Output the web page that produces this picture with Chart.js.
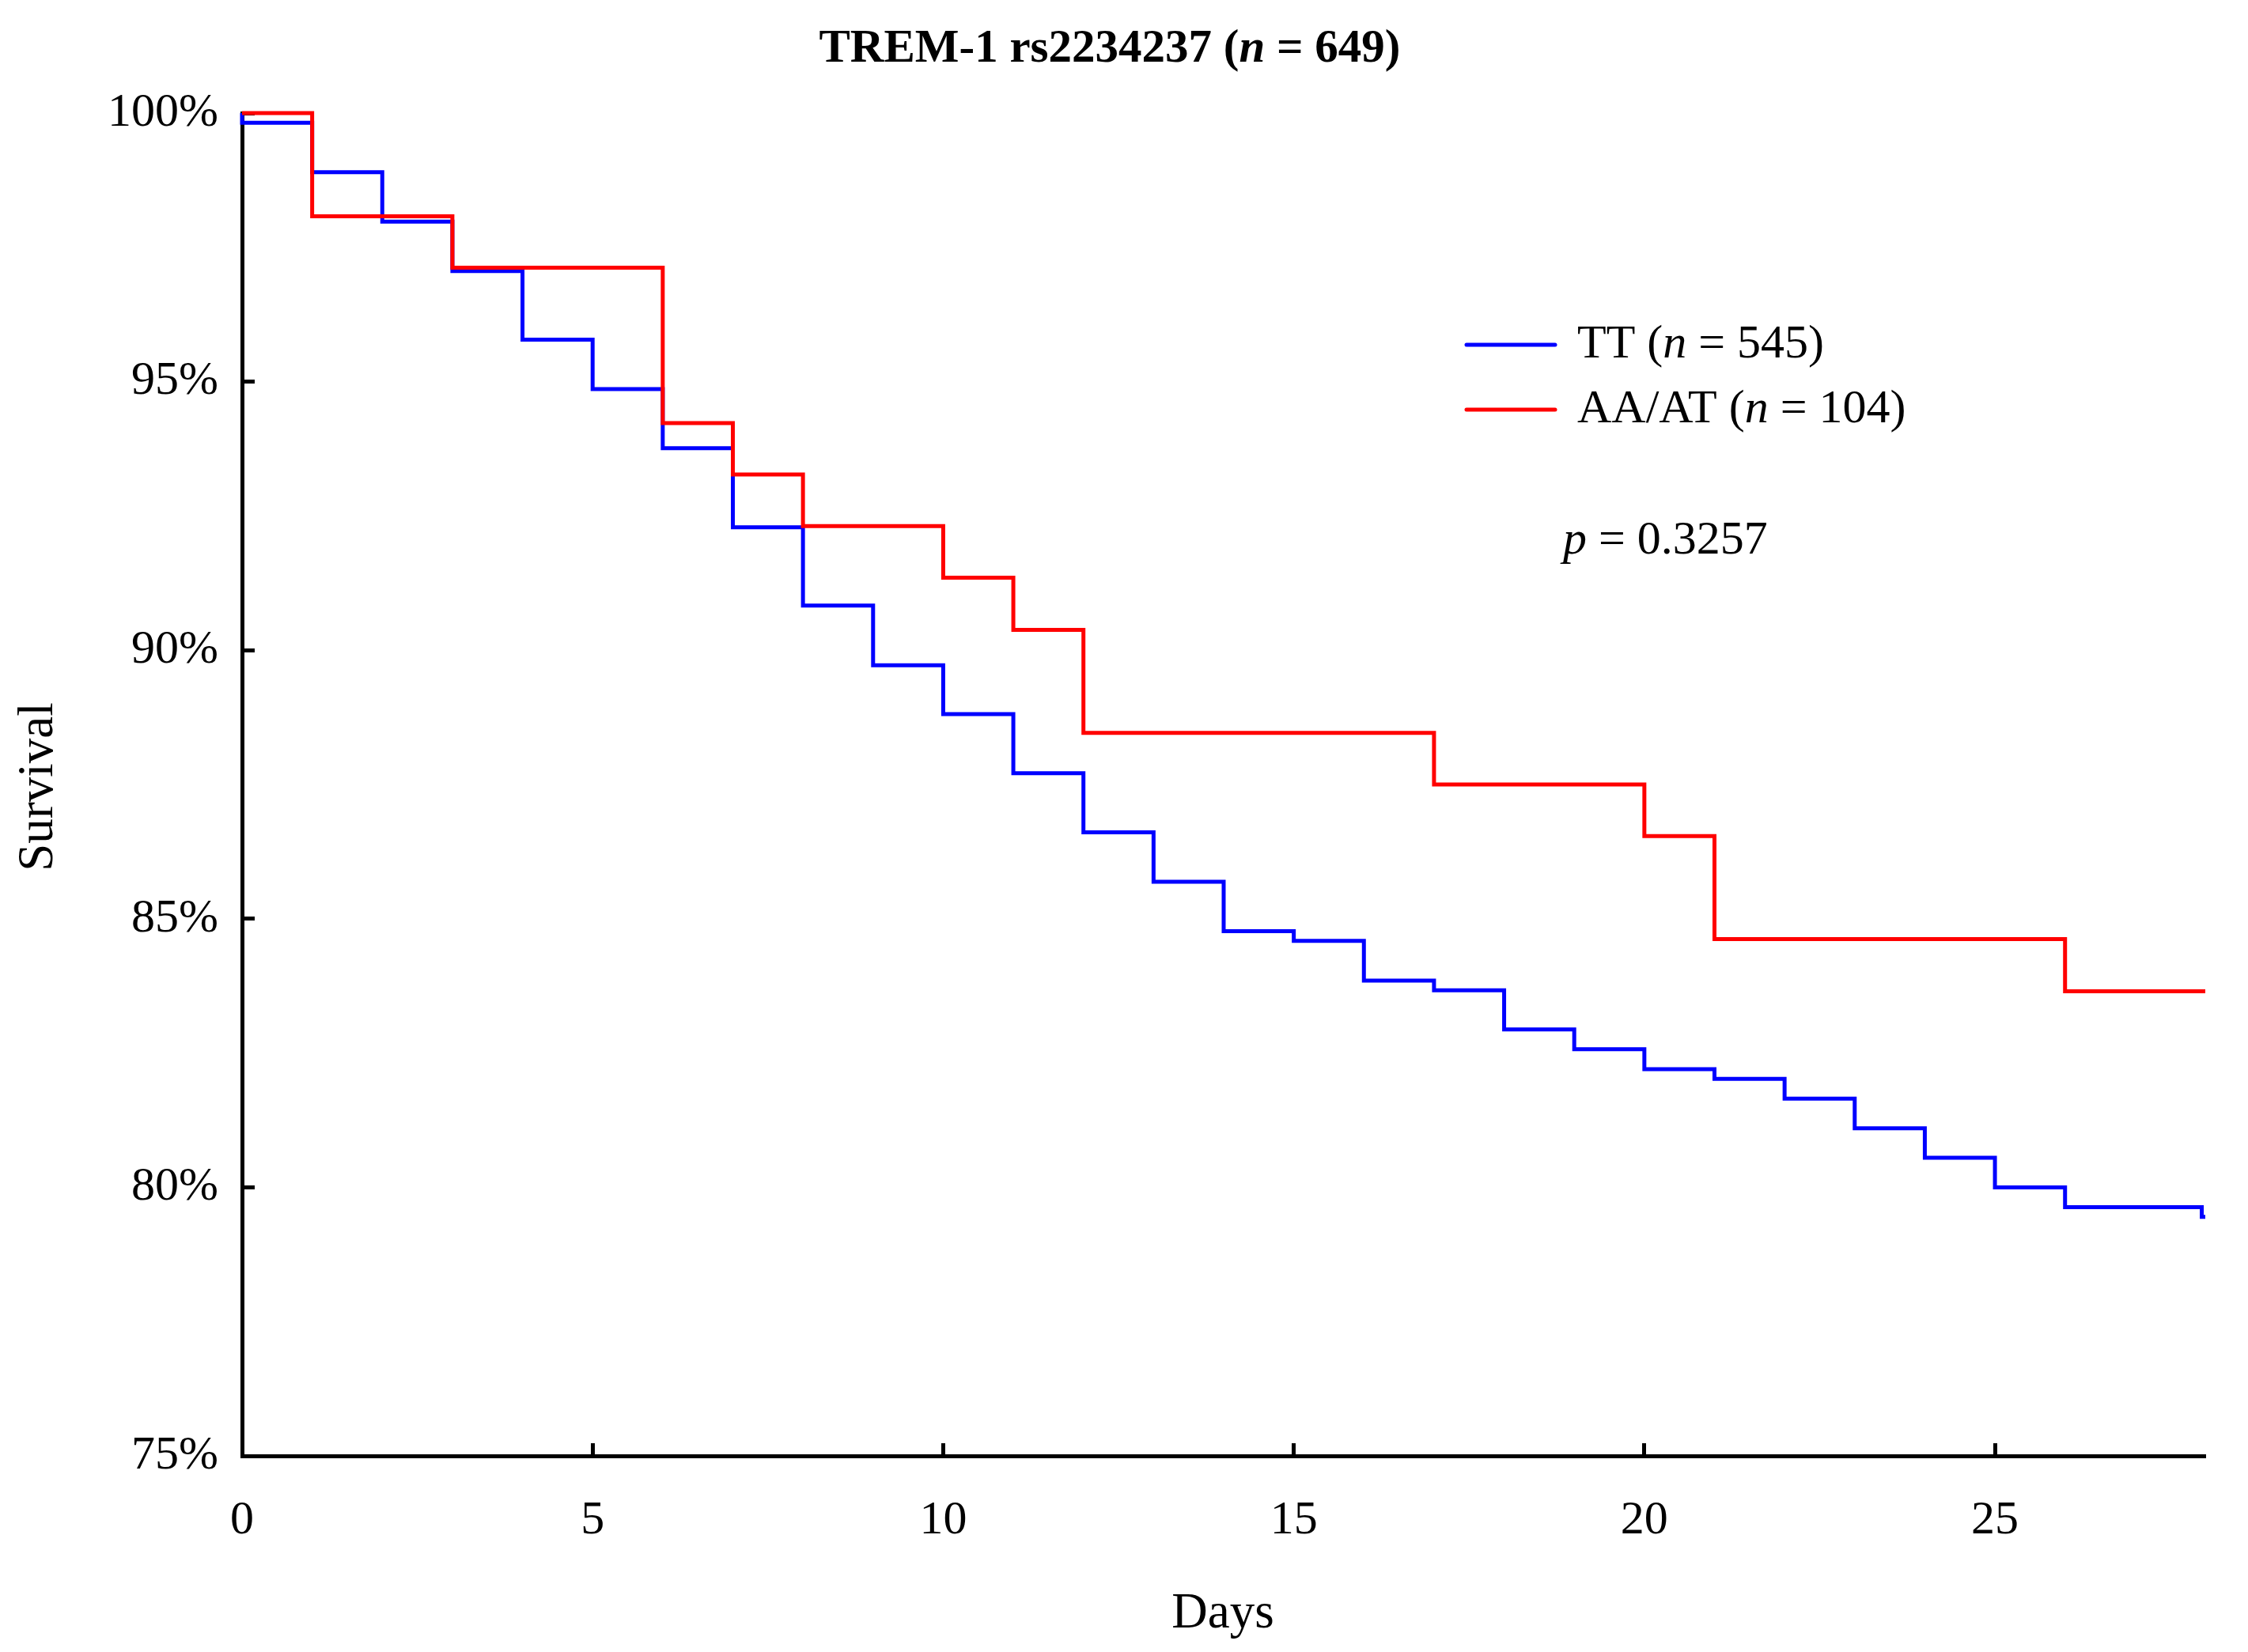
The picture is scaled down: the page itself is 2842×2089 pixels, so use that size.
<!DOCTYPE html>
<html>
<head>
<meta charset="utf-8">
<title>TREM-1 rs2234237 survival</title>
<script src="https://cdn.jsdelivr.net/npm/chart.js@4.4.0/dist/chart.umd.min.js"></script>
<style>
    html, body { margin: 0; padding: 0; background: #fff; }
    canvas { display: block; }
</style>
</head>
<body>
<canvas id="kmChart" width="2842" height="2089"></canvas>
<script>
// Kaplan-Meier steps (day of drop, survival % after drop)
const ttDays = [0, 0, 1, 2, 3, 4, 5, 6, 7, 8, 9, 10, 11, 12, 13, 14, 15, 16, 17, 18, 19, 20, 21, 22, 23, 24, 25, 26, 27.95, 28];
const ttSurvival = [100, 99.82, 98.90, 97.98, 97.06, 95.78, 94.86, 93.76, 92.29, 90.83, 89.72, 88.81, 87.71, 86.61, 85.69, 84.77, 84.59, 83.85, 83.67, 82.94, 82.57, 82.20, 82.02, 81.65, 81.10, 80.55, 80.00, 79.63, 79.45, 79.45];

const aaDays = [0, 1, 3, 6, 7, 8, 10, 11, 12, 17, 20, 21, 26, 28];
const aaSurvival = [100, 98.08, 97.12, 94.23, 93.27, 92.31, 91.35, 90.38, 88.46, 87.50, 86.54, 84.62, 83.65, 83.65];

const xTicks = [0, 5, 10, 15, 20, 25];
const yTicks = [75, 80, 85, 90, 95, 100];

const FONT = '"Liberation Serif", "DejaVu Serif", serif';
const BLUE = '#0000ff';
const RED = '#ff0000';

function toPoints(days, values) {
    return days.map((d, i) => ({ x: d, y: values[i] }));
}

// draw a line of text made of normal / italic pieces
function drawRich(ctx, parts, x, y, size, weight, align) {
    ctx.save();
    ctx.textBaseline = 'middle';
    ctx.textAlign = 'left';
    let total = 0;
    parts.forEach(p => {
        ctx.font = (p.italic ? 'italic ' : '') + weight + ' ' + size + 'px ' + FONT;
        p.w = ctx.measureText(p.t).width;
        total += p.w;
    });
    let cx = align === 'center' ? x - total / 2 : x;
    parts.forEach(p => {
        ctx.font = (p.italic ? 'italic ' : '') + weight + ' ' + size + 'px ' + FONT;
        ctx.fillStyle = '#000';
        ctx.fillText(p.t, cx, y);
        cx += p.w;
    });
    ctx.restore();
}

const annotations = {
    id: 'annotations',
    afterDraw(chart) {
        const ctx = chart.ctx;

        // title
        drawRich(ctx, [
            { t: 'TREM-1 rs2234237 (' },
            { t: 'n', italic: true },
            { t: ' = 649)' }
        ], 1403, 63, 59, 'bold', 'center');

        // axis titles
        ctx.save();
        ctx.fillStyle = '#000';
        ctx.font = '63px ' + FONT;
        ctx.textAlign = 'center';
        ctx.textBaseline = 'middle';
        ctx.fillText('Days', 1546, 2041);
        ctx.translate(49, 995);
        ctx.rotate(-Math.PI / 2);
        ctx.fillText('Survival', 0, 0);
        ctx.restore();

        // legend
        const legend = [
            { color: BLUE, y: 436, parts: [{ t: 'TT (' }, { t: 'n', italic: true }, { t: ' = 545)' }] },
            { color: RED, y: 518, parts: [{ t: 'AA/AT (' }, { t: 'n', italic: true }, { t: ' = 104)' }] }
        ];
        legend.forEach(item => {
            ctx.save();
            ctx.strokeStyle = item.color;
            ctx.lineWidth = 5;
            ctx.lineCap = 'round';
            ctx.beginPath();
            ctx.moveTo(1854, item.y);
            ctx.lineTo(1966, item.y);
            ctx.stroke();
            ctx.restore();
            drawRich(ctx, item.parts, 1994, item.y, 60, 'normal', 'left');
        });

        // p value
        drawRich(ctx, [
            { t: 'p', italic: true },
            { t: ' = 0.3257' }
        ], 1976, 684, 60, 'normal', 'left');
    }
};

new Chart(document.getElementById('kmChart'), {
    type: 'line',
    data: {
        datasets: [
            {
                label: 'TT (n = 545)',
                data: toPoints(ttDays, ttSurvival),
                borderColor: BLUE,
                borderWidth: 5,
                stepped: 'before',
                pointRadius: 0,
                clip: false,
                order: 1
            },
            {
                label: 'AA/AT (n = 104)',
                data: toPoints(aaDays, aaSurvival),
                borderColor: RED,
                borderWidth: 5,
                stepped: 'before',
                pointRadius: 0,
                clip: false,
                order: 0
            }
        ]
    },
    options: {
        responsive: false,
        devicePixelRatio: 1,
        animation: false,
        layout: {
            padding: { left: 0, top: 143, right: 54, bottom: 0 }
        },
        plugins: {
            legend: { display: false },
            tooltip: { enabled: false },
            title: { display: false }
        },
        scales: {
            x: {
                type: 'linear',
                min: 0,
                max: 28,
                afterFit: scale => { scale.height = 248; },
                afterBuildTicks: scale => { scale.ticks = xTicks.map(v => ({ value: v })); },
                border: { display: true, color: '#000', width: 5 },
                grid: {
                    drawOnChartArea: false,
                    drawTicks: true,
                    tickLength: -16,
                    tickWidth: 5,
                    color: '#000'
                },
                ticks: {
                    color: '#000',
                    padding: 62,
                    maxRotation: 0,
                    font: { family: FONT, size: 60 }
                }
            },
            y: {
                type: 'linear',
                min: 75,
                max: 100,
                afterFit: scale => { scale.width = 306; },
                afterBuildTicks: scale => { scale.ticks = yTicks.map(v => ({ value: v })); },
                border: { display: true, color: '#000', width: 5 },
                grid: {
                    drawOnChartArea: false,
                    drawTicks: true,
                    tickLength: -16,
                    tickWidth: 5,
                    color: '#000'
                },
                ticks: {
                    color: '#000',
                    padding: 46,
                    font: { family: FONT, size: 60 },
                    callback: v => v + '%'
                }
            }
        }
    },
    plugins: [annotations]
});
</script>
</body>
</html>
